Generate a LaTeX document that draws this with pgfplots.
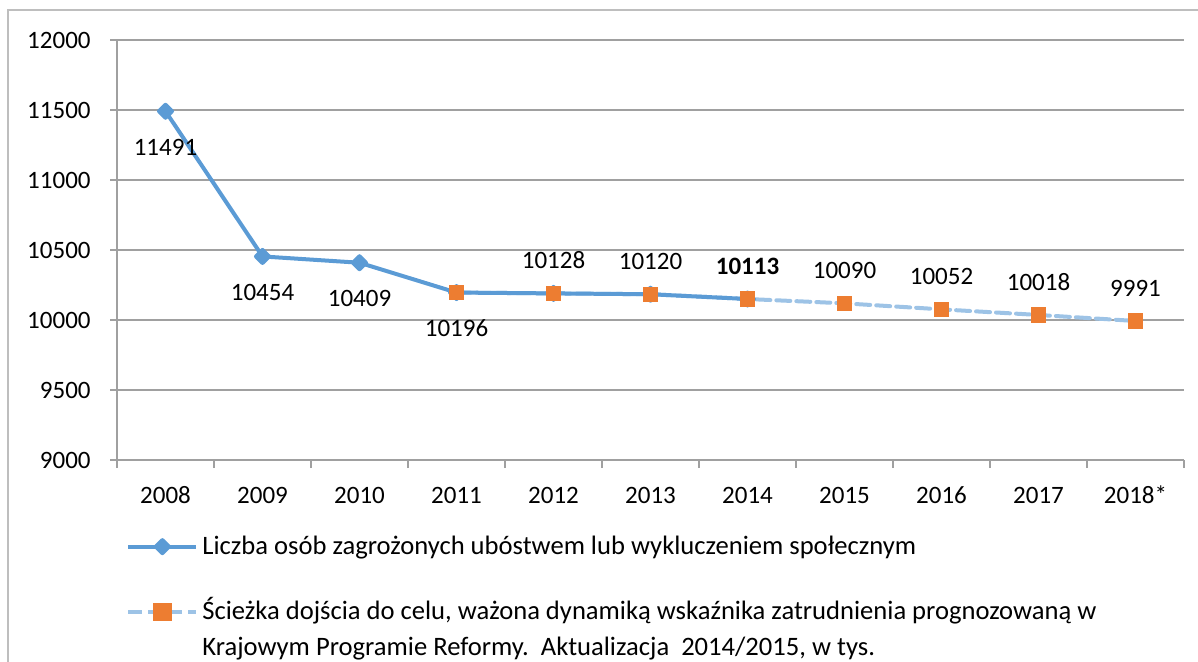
\documentclass[border=0pt]{standalone}
\usepackage{pgfplots}
\pgfplotsset{compat=1.18}
\usepackage{fontspec}
\setmainfont{Carlito}
\definecolor{clrBlue}{RGB}{91,155,213}
\definecolor{clrOrange}{RGB}{237,125,49}
\definecolor{clrLight}{RGB}{157,195,230}
\definecolor{clrGrid}{RGB}{160,160,160}
\definecolor{clrFrame}{RGB}{190,190,190}

\begin{document}
\begin{tikzpicture}
% picture area: 1px = 0.5pt, origin at top left
\useasboundingbox (0,0) rectangle (599pt,-331pt);
\draw[clrFrame,line width=0.8pt] (4pt,-331pt) -- (4pt,-5pt) -- (599pt,-5pt);
\begin{axis}[
  at={(58.5pt,-230pt)}, anchor=south west,
  scale only axis,
  width=533.5pt, height=210pt,
  xmin=-0.5, xmax=10.5,
  ymin=9000, ymax=12000,
  scaled y ticks=false,
  axis lines=left,
  axis line style={clrGrid,line width=0.8pt,-},
  tick style={clrGrid,line width=0.8pt},
  tick align=outside,
  major tick length=3.5pt,
  minor tick length=4pt,
  xtick={0,...,10},
  xticklabels={2008,2009,2010,2011,2012,2013,2014,2015,2016,2017,2018*},
  major x tick style={draw=none},
  minor xtick={-0.5,0.5,...,10.5},
  ytick={9000,9500,...,12000},
  yticklabels={9000,9500,10000,10500,11000,11500,12000},
  ymajorgrids=true,
  grid style={clrGrid,line width=0.8pt},
  ticklabel style={font=\fontsize{12.5}{15}\selectfont,text=black},
  xticklabel style={anchor=base,inner sep=0pt,yshift=-18pt},
  yticklabel style={anchor=east,inner sep=0pt,xshift=-9.5pt},
  clip=false,
  legend style={at={(axis description cs:0.0084,-0.17)},anchor=north west,
    draw=none,fill=none,inner sep=0pt,row sep=14.5pt,
    font=\fontsize{13.3}{18}\selectfont,
    cells={anchor=base west}},
  legend image code/.code={%
    \draw[mark repeat=2,mark phase=2,#1]
      plot coordinates {(0pt,3.8pt) (17pt,3.8pt) (34pt,3.8pt)};},
]
% dashed path line, under the solid line
\addplot[clrLight,line width=2pt,dash pattern=on 7pt off 3pt,line cap=round,
  forget plot]
  coordinates {(3,10196) (4,10190) (5,10184) (6,10150) (7,10119)
               (8,10076) (9,10036) (10,9993)};
% measured series
\addplot[clrBlue,line width=2pt,line join=round,
  mark=square*,mark size=2.3pt,mark options={rotate=45,solid,fill=clrBlue,draw=clrBlue},
  nodes near coords,point meta=explicit symbolic,
  nodes near coords style={font=\fontsize{12.5}{15}\selectfont,text=black,
    anchor=center,yshift=-18pt}]
  coordinates {(0,11491)[11491] (1,10454)[10454] (2,10409)[10409]
               (3,10196)[10196] (4,10190)[] (5,10184)[] (6,10150)[]};
\addlegendentry{Liczba osób zagrożonych ubóstwem lub wykluczeniem społecznym}
% path markers
\addplot[only marks,mark=square*,mark size=3.6pt,
  mark options={solid,fill=clrOrange,draw=clrOrange},
  nodes near coords,point meta=explicit symbolic,forget plot,
  nodes near coords style={font=\fontsize{12.5}{15}\selectfont,text=black,
    anchor=center,yshift=16.5pt}]
  coordinates {(3,10196)[] (4,10190)[10128] (5,10184)[10120]
               (6,10150)[\textbf{10113}] (7,10119)[10090] (8,10076)[10052]
               (9,10036)[10018] (10,9993)[9991]};
\addlegendimage{clrLight,line width=2pt,dash pattern=on 7pt off 3pt,
  mark=square*,mark size=3.6pt,mark options={solid,fill=clrOrange,draw=clrOrange}}
\addlegendentry{\begin{tabular}[t]{@{}l@{}}Ścieżka dojścia do celu, ważona dynamiką wskaźnika zatrudnienia prognozowaną w\\Krajowym Programie Reformy.\ \ Aktualizacja\ \ 2014/2015, w tys.\end{tabular}}
\end{axis}
\end{tikzpicture}
\end{document}
